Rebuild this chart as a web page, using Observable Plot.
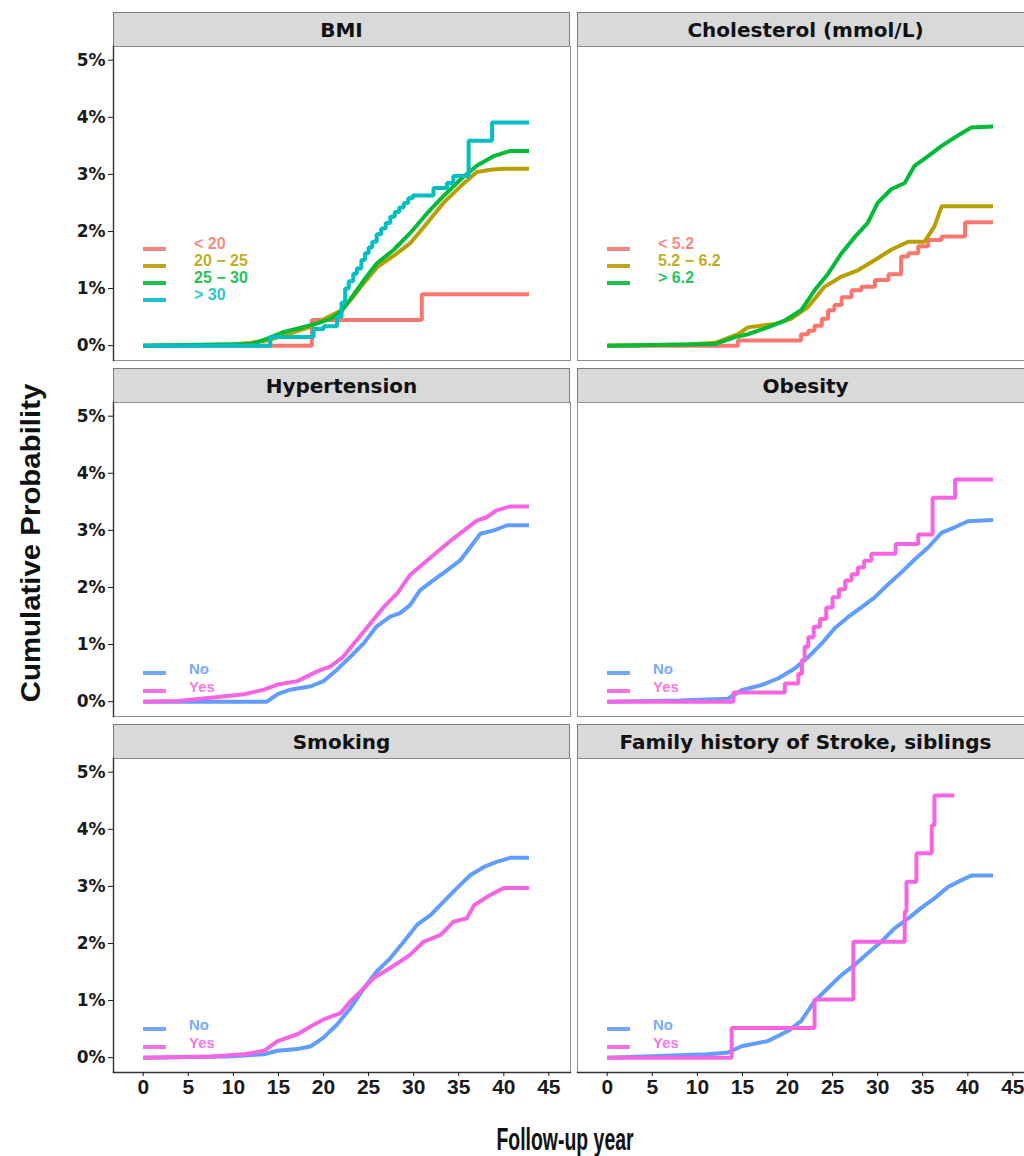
<!DOCTYPE html>
<html>
<head>
<meta charset="utf-8">
<script src="https://cdn.jsdelivr.net/npm/d3@7"></script>
<script src="https://cdn.jsdelivr.net/npm/@observablehq/plot@0.6"></script>
<style>
html,body{margin:0;padding:0;background:#fff;overflow:hidden;}
#root{position:relative;width:1024px;height:1156px;overflow:hidden;background:#fff;}
.strip{position:absolute;box-sizing:border-box;background:#d9d9d9;border:1px solid #7a7a7a;display:flex;align-items:center;justify-content:center;font-family:"DejaVu Sans",sans-serif;font-weight:bold;font-size:20px;color:#111;white-space:nowrap;}
.panel{position:absolute;}
.panel svg{display:block;overflow:visible;background:transparent;max-width:none !important;}
.legline{position:absolute;height:4px;}
.legtext{position:absolute;font-family:"Liberation Sans",Arial,sans-serif;font-weight:bold;line-height:1;white-space:nowrap;transform:translateY(-50%);}
.title{position:absolute;font-family:"Liberation Sans",Arial,sans-serif;font-weight:bold;color:#111;white-space:nowrap;}
</style>
</head>
<body>
<div id="root"></div>
<script>
// ---------------- DATA ----------------
const stripTitles = ["BMI", "Cholesterol (mmol/L)", "Hypertension", "Obesity", "Smoking", "Family history of Stroke, siblings"];
const bmiLabels = ["< 20", "20 \u2212 25", "25 \u2212 30", "> 30"];
const cholLabels = ["< 5.2", "5.2 \u2212 6.2", "> 6.2"];
const yesNoLabels = ["No", "Yes"];
const xTicks = [0, 5, 10, 15, 20, 25, 30, 35, 40, 45];
const yTicks = [0, 1, 2, 3, 4, 5];
const axisTitleY = "Cumulative Probability";
const axisTitleX = "Follow-up year";

// [follow-up year, cumulative probability %]
const bmiUnder20 = [[0,0],[18.7,0.45],[30.9,0.90],[42.8,0.90]];
const bmi20to25 = [[0,0],[10,0.02],[12,0.05],[14,0.1],[16,0.2],[18.5,0.33],[20.5,0.5],[22,0.62],[23,0.8],[24.5,1.1],[26,1.38],[28,1.6],[29.6,1.79],[31.5,2.15],[33.3,2.5],[35.2,2.79],[37.0,3.04],[38.5,3.08],[40,3.1],[42.8,3.1]];
const bmi25to30 = [[0,0],[12,0.03],[13.7,0.12],[15.6,0.24],[17.4,0.31],[19.3,0.39],[20.8,0.47],[21.9,0.59],[23.0,0.82],[24.5,1.15],[25.9,1.44],[27.8,1.68],[29.6,1.97],[31.5,2.32],[33.3,2.62],[35.2,2.91],[37.0,3.15],[38.9,3.32],[40.7,3.41],[42.8,3.41]];
const bmiOver30 = [[0,0],[14.1,0.15],[18.9,0.29],[20.0,0.34],[21.5,0.5],[22.0,0.75],[22.4,1.0],[22.8,1.13],[23.3,1.26],[23.7,1.35],[24.2,1.5],[24.6,1.62],[25.0,1.72],[25.4,1.82],[25.9,1.95],[26.4,2.05],[26.9,2.15],[27.4,2.26],[27.9,2.34],[28.4,2.42],[28.9,2.5],[29.4,2.58],[29.9,2.63],[32.2,2.76],[33.7,2.85],[34.4,2.97],[36.1,3.59],[38.7,3.91],[42.8,3.91]];

const cholUnder52 = [[0,0],[14.5,0.09],[21.5,0.2],[22.3,0.26],[23.0,0.35],[23.8,0.47],[24.5,0.62],[25.2,0.71],[26.0,0.85],[27.1,0.97],[28.2,1.03],[29.7,1.15],[31.2,1.25],[32.6,1.56],[33.4,1.62],[34.5,1.74],[35.6,1.85],[37.1,1.91],[39.7,2.16],[42.8,2.16]];
const chol52to62 = [[0,0],[9,0.02],[12,0.05],[14.5,0.2],[15.6,0.32],[18.6,0.38],[20.4,0.47],[22.3,0.68],[24.1,1.03],[26.0,1.21],[27.8,1.32],[29.7,1.5],[31.5,1.68],[33.4,1.82],[35.2,1.82],[36.3,2.09],[37.1,2.44],[42.8,2.44]];
const cholOver62 = [[0,0],[12,0.03],[14.2,0.15],[15.6,0.2],[17.8,0.32],[19.7,0.44],[21.5,0.62],[23.0,0.97],[24.5,1.26],[26.0,1.62],[27.5,1.91],[28.9,2.15],[30.0,2.5],[31.5,2.74],[33.0,2.85],[34.1,3.15],[35.6,3.32],[37.1,3.5],[38.9,3.68],[40.4,3.82],[42.8,3.84]];

const hypNo = [[0,0],[13.7,0],[14.9,0.13],[16.3,0.21],[18.6,0.27],[20.0,0.36],[21.5,0.56],[23.0,0.79],[24.5,1.03],[25.9,1.32],[27.4,1.49],[28.5,1.55],[29.6,1.69],[30.7,1.95],[32.2,2.13],[33.7,2.3],[35.2,2.48],[36.3,2.71],[37.4,2.94],[38.9,3.0],[40.4,3.09],[42.8,3.09]];
const hypYes = [[0,0],[3.8,0.01],[7.5,0.07],[11.2,0.13],[13.4,0.21],[14.9,0.3],[17.1,0.36],[19.3,0.53],[20.8,0.62],[22.2,0.79],[23.7,1.08],[25.2,1.37],[26.7,1.66],[28.2,1.9],[29.6,2.22],[31.1,2.42],[32.6,2.62],[34.1,2.82],[35.6,3.0],[37.0,3.17],[38.1,3.23],[39.2,3.35],[40.7,3.42],[42.8,3.42]];

const obeNo = [[0,0],[8,0.02],[13.4,0.05],[14.9,0.2],[17.1,0.29],[19.0,0.41],[20.8,0.58],[22.3,0.78],[23.8,1.02],[25.2,1.28],[26.7,1.48],[28.2,1.65],[29.7,1.83],[31.2,2.06],[32.6,2.26],[34.1,2.49],[35.6,2.7],[37.1,2.96],[38.5,3.05],[40.0,3.16],[42.8,3.18]];
const obeYes = [[0,0],[14.0,0.16],[19.7,0.32],[21.2,0.49],[21.6,0.73],[21.9,0.96],[22.3,1.13],[22.9,1.31],[23.6,1.45],[24.3,1.65],[25.0,1.83],[25.7,1.97],[26.4,2.12],[27.1,2.23],[27.8,2.35],[28.5,2.47],[29.3,2.59],[32.0,2.76],[34.5,2.93],[36.1,3.57],[38.6,3.89],[42.8,3.89]];

const smkNo = [[0,0],[9.3,0.02],[13.4,0.06],[14.9,0.12],[17.1,0.15],[18.6,0.2],[20.0,0.35],[21.5,0.58],[23.0,0.87],[24.5,1.22],[25.9,1.51],[27.4,1.74],[28.9,2.03],[30.4,2.33],[31.9,2.5],[33.3,2.73],[34.8,2.97],[36.3,3.2],[37.8,3.34],[39.2,3.43],[40.7,3.5],[42.8,3.5]];
const smkYes = [[0,0],[7.5,0.02],[11.2,0.06],[13.4,0.12],[14.9,0.29],[17.1,0.41],[18.6,0.55],[20.0,0.67],[21.9,0.78],[23.0,0.99],[24.5,1.22],[25.6,1.4],[27.4,1.57],[29.6,1.8],[31.1,2.03],[33.0,2.15],[34.4,2.38],[35.9,2.44],[36.7,2.67],[38.5,2.85],[40.0,2.97],[42.8,2.97]];

const famNo = [[0,0],[11.2,0.06],[13.4,0.09],[14.9,0.2],[17.8,0.29],[20.1,0.47],[21.5,0.64],[23.0,0.99],[24.5,1.22],[26.0,1.45],[27.5,1.63],[28.9,1.83],[30.4,2.03],[31.9,2.27],[33.4,2.44],[34.8,2.62],[36.3,2.79],[37.8,2.99],[39.3,3.11],[40.4,3.19],[42.8,3.19]];
const famYes = [[0,0],[13.8,0.52],[23.0,1.02],[27.3,2.03],[33.0,2.56],[33.2,3.08],[34.3,3.58],[36.0,4.07],[36.3,4.59],[38.5,4.59]];

// ---------------- STYLE / LAYOUT ----------------
const C = {red:"#F8766D", olive:"#B79F00", green:"#00BA38", cyan:"#00BFC4", blue:"#619CFF", magenta:"#F564E3"};
const xDomain = [-3.3, 47.4];
const yDomain = [-0.26, 5.24];
const colX = [113, 577];
const panelW = 457;
const rowTop = [46, 402, 758];
const plotH = 314;
const stripH = 34;
const xTickFont = '"Liberation Sans Narrow","Arial Narrow","Liberation Sans",sans-serif';

const panels = [
  {title: stripTitles[0], row:0, col:0, labels: bmiLabels,
   series:[{d:bmiUnder20,c:C.red,step:true},{d:bmi20to25,c:C.olive},{d:bmi25to30,c:C.green},{d:bmiOver30,c:C.cyan,step:true}]},
  {title: stripTitles[1], row:0, col:1, labels: cholLabels,
   series:[{d:cholUnder52,c:C.red,step:true},{d:chol52to62,c:C.olive},{d:cholOver62,c:C.green}]},
  {title: stripTitles[2], row:1, col:0, labels: yesNoLabels,
   series:[{d:hypNo,c:C.blue},{d:hypYes,c:C.magenta}]},
  {title: stripTitles[3], row:1, col:1, labels: yesNoLabels,
   series:[{d:obeNo,c:C.blue},{d:obeYes,c:C.magenta,step:true}]},
  {title: stripTitles[4], row:2, col:0, labels: yesNoLabels,
   series:[{d:smkNo,c:C.blue},{d:smkYes,c:C.magenta}]},
  {title: stripTitles[5], row:2, col:1, labels: yesNoLabels,
   series:[{d:famNo,c:C.blue},{d:famYes,c:C.magenta,step:true}]}
];

const root = document.getElementById("root");

function el(cls, css, text) {
  const e = document.createElement("div");
  e.className = cls;
  Object.assign(e.style, css);
  if (text != null) e.textContent = text;
  root.appendChild(e);
  return e;
}

panels.forEach(p => {
  const isLeft = p.col === 0;
  const isBottom = p.row === 2;
  const px = colX[p.col];
  const top = rowTop[p.row];
  const mL = isLeft ? 113 : 0;
  const mB = isBottom ? 44 : 0;

  // strip
  el("strip", {left: px + "px", top: (top - stripH) + "px", width: panelW + "px", height: (stripH + 1) + "px"}, p.title);

  const marks = [
    Plot.frame({stroke: "#8c8c8c", strokeWidth: 1}),
    ...p.series.map(s => Plot.line(s.d, {
      x: d => d[0], y: d => d[1],
      stroke: s.c, strokeWidth: 4,
      curve: s.step ? "step-after" : "linear",
      strokeLinejoin: "miter", strokeLinecap: "butt"
    }))
  ];
  if (isLeft) {
    marks.push(Plot.frame({anchor: "left", stroke: "#333", strokeWidth: 1.4}));
    marks.push(Plot.axisY({
      ticks: yTicks, tickFormat: d => d + "%", tickSize: 5, tickPadding: 3,
      label: null, fontSize: 17, fontWeight: "bold", fontFamily: '"DejaVu Sans",sans-serif', color: "#1a1a1a"
    }));
  }
  if (isBottom) {
    marks.push(Plot.frame({anchor: "bottom", stroke: "#333", strokeWidth: 1.4}));
    marks.push(Plot.axisX({
      ticks: xTicks, tickSize: 4, tickPadding: 3,
      label: null, fontSize: 21, fontWeight: "bold", fontFamily: xTickFont, color: "#1a1a1a"
    }));
  }

  const svg = Plot.plot({
    width: mL + panelW,
    height: plotH + mB,
    marginLeft: mL, marginRight: 0, marginTop: 0, marginBottom: mB,
    x: Object.assign({domain: xDomain}, isBottom ? {} : {axis: null}),
    y: Object.assign({domain: yDomain}, isLeft ? {} : {axis: null}),
    style: {background: "transparent", overflow: "visible", maxWidth: "none"},
    marks
  });
  const holder = el("panel", {left: (px - mL) + "px", top: top + "px", width: (mL + panelW) + "px"});
  holder.appendChild(svg);

  // legend (inside panel)
  const legTop = p.row === 0 ? 203 : 271;
  const spacing = p.row === 0 ? 17 : 17.5;
  const textDx = p.row === 0 ? 81 : 76;
  const fs = p.row === 0 ? 16 : 15;
  p.labels.forEach((lab, i) => {
    const cy = top + legTop + i * spacing;
    el("legline", {left: (px + 30) + "px", top: (cy - 2) + "px", width: "23px", background: p.series[i].c, opacity: 0.9});
    el("legtext", {left: (px + textDx) + "px", top: (cy - 5) + "px", color: p.series[i].c, fontSize: fs + "px", opacity: 0.85}, lab);
  });
});

// axis titles
el("title", {left: "31px", top: "543px", fontSize: "28px", transform: "translate(-50%,-50%) rotate(-90deg) scaleX(1.05)"}, axisTitleY);
el("title", {left: "565px", top: "1140px", fontSize: "24px", transform: "translate(-50%,-50%) scale(0.81,1.3)"}, axisTitleX);
</script>
</body>
</html>
